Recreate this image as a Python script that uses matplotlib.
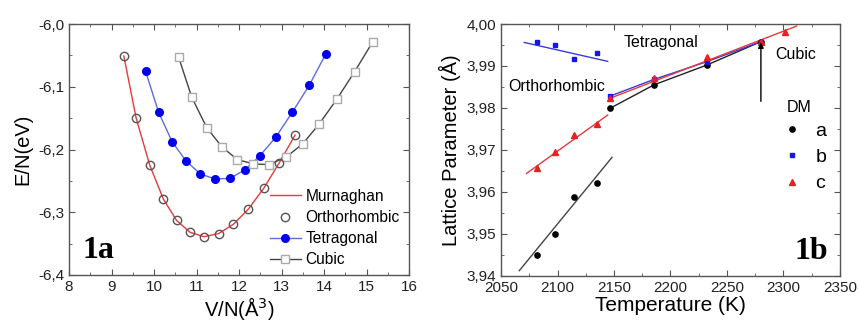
import matplotlib
matplotlib.use("Agg")
import matplotlib.pyplot as plt
from matplotlib.ticker import MultipleLocator, FuncFormatter

plt.rcParams['font.family'] = ['Liberation Sans', 'DejaVu Sans']

# ---- Panel 1a data ----
V_ortho = [9.29, 9.58, 9.90, 10.22, 10.53, 10.85, 11.18, 11.52, 11.87, 12.22, 12.58, 12.94, 13.32]
E_ortho = [-6.051, -6.150, -6.225, -6.279, -6.313, -6.332, -6.339, -6.334, -6.319, -6.295, -6.262, -6.222, -6.177]
V_tet = [9.80, 10.11, 10.43, 10.75, 11.09, 11.44, 11.78, 12.13, 12.49, 12.87, 13.25, 13.65, 14.04]
E_tet = [-6.075, -6.141, -6.188, -6.218, -6.239, -6.247, -6.246, -6.233, -6.210, -6.180, -6.141, -6.098, -6.048]
V_cub = [10.58, 10.89, 11.24, 11.60, 11.96, 12.34, 12.71, 13.11, 13.50, 13.89, 14.30, 14.72, 15.15]
E_cub = [-6.053, -6.117, -6.165, -6.196, -6.216, -6.223, -6.224, -6.212, -6.191, -6.159, -6.120, -6.076, -6.028]

# ---- Panel 1b data ----
T_pts = [2081.6, 2097.8, 2114.6, 2135.3, 2146.5, 2185.4, 2232.0, 2280.0]
a_pts = [3.9449, 3.9499, 3.9588, 3.9620, 3.9799, 3.9855, 3.9902, 3.9958]
b_pts = [3.9956, 3.9950, 3.9916, 3.9932, 3.9828, 3.9868, 3.9910, 3.9958]
T_c = [2081.6, 2097.8, 2114.6, 2135.3, 2146.5, 2185.4, 2232.0, 2280.0, 2301.3]
c_pts = [3.9656, 3.9696, 3.9735, 3.9762, 3.9823, 3.9872, 3.9922, 3.9958, 3.9980]
# fit line end points
fit_a_T, fit_a_y = [2066.2, 2148.2], [3.9412, 3.9682]
fit_b_T, fit_b_y = [2070.6, 2144.4], [3.9956, 3.9911]
fit_c_T, fit_c_y = [2072.7, 2144.4], [3.9644, 3.9783]
fit_ct_T, fit_ct_y = [2146.5, 2311.6], [3.9823, 3.9995]

fig = plt.figure(figsize=(8.58, 3.22), dpi=100)
ax1 = fig.add_axes([69/858, 1-275/322, 340/858, 251/322])
ax2 = fig.add_axes([501/858, 1-275.7/322, 339/858, 251.7/322])

spine_col = '#555555'
def style(ax):
    for s in ax.spines.values():
        s.set_color(spine_col)
        s.set_linewidth(1.0)
    ax.tick_params(which='both', direction='in', top=True, right=True, colors=spine_col,
                   labelcolor='#222222', labelsize=11)
    ax.tick_params(which='major', length=4)
    ax.tick_params(which='minor', length=2.5)

# Panel 1a
ax1.plot(V_ortho, E_ortho, '-', color='#e8393c', lw=1.0, label='Murnaghan', zorder=2)
ax1.plot(V_ortho, E_ortho, 'o', mfc='none', mec='#555555', ms=6, mew=1.0, ls='none',
         label='Orthorhombic', zorder=3)
ax1.plot(V_tet, E_tet, '-o', color='#5a6ee0', mfc='#0000ee', mec='#0000ee', ms=5.5, lw=1.0,
         label='Tetragonal')
ax1.plot(V_cub, E_cub, '-s', color='#444444', mfc='white', mec='#aaaaaa', ms=5.5, lw=1.0,
         label='Cubic')
ax1.set_xlim(8, 16)
ax1.set_ylim(-6.4, -6.0)
ax1.xaxis.set_major_locator(MultipleLocator(1))
ax1.xaxis.set_minor_locator(MultipleLocator(0.5))
ax1.yaxis.set_major_locator(MultipleLocator(0.1))
ax1.yaxis.set_minor_locator(MultipleLocator(0.05))
ax1.yaxis.set_major_formatter(FuncFormatter(lambda v, p: f"{v:.1f}".replace('.', ',')))
style(ax1)
ax1.set_xlabel('V/N(Å$^3$)', fontsize=14.5, labelpad=1)
ax1.set_ylabel('E/N(eV)', fontsize=14.5, labelpad=4)
ax1.legend(loc='lower left', frameon=False, fontsize=11.2, handlelength=2.0,
           handletextpad=0.3, labelspacing=0.4, borderaxespad=0.0, borderpad=0.0,
           bbox_to_anchor=(0.59, 0.03))
ax1.text(0.04, 0.068, '1a', transform=ax1.transAxes, fontsize=23, fontweight='bold',
         family='Liberation Serif', ha='left', va='baseline')

# Panel 1b
ax2.plot(fit_a_T, fit_a_y, '-', color='#444444', lw=1.0)
ax2.plot(fit_b_T, fit_b_y, '-', color='#3a3ad8', lw=1.0)
ax2.plot(fit_c_T, fit_c_y, '-', color='#e8393c', lw=1.0)
ax2.plot(T_pts[4:], a_pts[4:], '-', color='#222222', lw=1.0)
ax2.plot(T_pts[4:], b_pts[4:], '-', color='#3a3ad8', lw=1.0)
ax2.plot(fit_ct_T, fit_ct_y, '-', color='#e8393c', lw=1.0)
ax2.plot(T_pts, a_pts, 'o', color='black', ms=3.8, ls='none', label='a')
ax2.plot(T_pts, b_pts, 's', color='#1515e8', ms=3.5, ls='none', label='b')
ax2.plot(T_c, c_pts, '^', color='#e82020', ms=4.2, ls='none', label='c')
ax2.annotate('', xy=(2280, 3.9963), xytext=(2280, 3.9809),
             arrowprops=dict(arrowstyle='-|>', color='black', lw=1.0, mutation_scale=8))
ax2.text(2192, 3.9955, 'Tetragonal', fontsize=11.5, ha='center', va='center')
ax2.text(2099, 3.9852, 'Orthorhombic', fontsize=11.5, ha='center', va='center')
ax2.text(2311, 3.9928, 'Cubic', fontsize=11.5, ha='center', va='center')
ax2.text(2314, 3.9802, 'DM', fontsize=11.5, ha='center', va='center')
ax2.legend(loc='upper left', frameon=False, fontsize=14, handlelength=1.0,
           handletextpad=0.7, labelspacing=0.45, borderaxespad=0.0, borderpad=0.0,
           bbox_to_anchor=(0.83, 0.61))
ax2.text(0.965, 0.068, '1b', transform=ax2.transAxes, fontsize=23, fontweight='bold',
         family='Liberation Serif', ha='right', va='baseline')
ax2.set_xlim(2050, 2350)
ax2.set_ylim(3.94, 4.00)
ax2.xaxis.set_major_locator(MultipleLocator(50))
ax2.xaxis.set_minor_locator(MultipleLocator(25))
ax2.yaxis.set_major_locator(MultipleLocator(0.01))
ax2.yaxis.set_minor_locator(MultipleLocator(0.005))
ax2.yaxis.set_major_formatter(FuncFormatter(lambda v, p: f"{v:.2f}".replace('.', ',')))
style(ax2)
ax2.set_xlabel('Temperature (K)', fontsize=15, labelpad=1)
ax2.set_ylabel('Lattice Parameter (Å)', fontsize=14.5, labelpad=4)

fig.savefig('out.png', dpi=100)
